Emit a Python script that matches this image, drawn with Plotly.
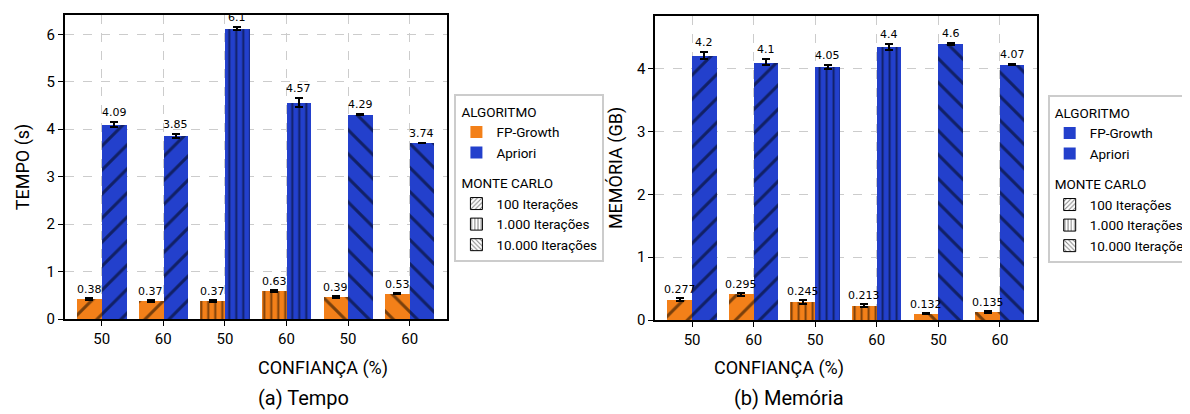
import plotly.graph_objects as go

confianca = ["50", "60", "50", "60", "50", "60"]
hatches = ["/", "/", "|", "|", "\\", "\\"]

tempo_fp = [0.42, 0.38, 0.38, 0.60, 0.46, 0.54]
tempo_fp_err = [0.02, 0.02, 0.02, 0.02, 0.02, 0.02]
tempo_fp_lbl = ["0.38", "0.37", "0.37", "0.63", "0.39", "0.53"]
tempo_ap = [4.10, 3.86, 6.12, 4.56, 4.31, 3.71]
tempo_ap_err = [0.05, 0.05, 0.03, 0.09, 0.01, 0.01]
tempo_ap_lbl = ["4.09", "3.85", "6.1", "4.57", "4.29", "3.74"]

mem_fp = [0.33, 0.41, 0.29, 0.23, 0.10, 0.13]
mem_fp_err = [0.02, 0.02, 0.03, 0.03, 0.01, 0.01]
mem_fp_lbl = ["0.277", "0.295", "0.245", "0.213", "0.132", "0.135"]
mem_ap = [4.21, 4.10, 4.03, 4.34, 4.39, 4.06]
mem_ap_err = [0.05, 0.05, 0.03, 0.05, 0.01, 0.01]
mem_ap_lbl = ["4.2", "4.1", "4.05", "4.4", "4.6", "4.07"]

ORANGE = "#F38019"
BLUE = "#2340CC"
FONT = "Roboto"
W, H = 1190, 414

fig = go.Figure()
xs = list(range(len(confianca)))


def pat(shapes):
    sizes = [7 if s == "|" else 17 for s in shapes]
    sol = [0.28 if s == "|" else 0.18 for s in shapes]
    return dict(shape=shapes, fgcolor="black", size=sizes, solidity=sol, fillmode="overlay")


def add_panel(fp, fp_err, fp_lbl, ap, ap_err, ap_lbl, xa, ya):
    fig.add_trace(go.Bar(
        x=xs, y=fp, width=0.4, offset=-0.4, xaxis=xa, yaxis=ya,
        marker=dict(color=ORANGE, line=dict(width=0), pattern=pat(hatches)),
        error_y=dict(type="data", array=fp_err, color="black", thickness=2, width=4),
        showlegend=False))
    fig.add_trace(go.Bar(
        x=xs, y=ap, width=0.4, offset=0.0, xaxis=xa, yaxis=ya,
        marker=dict(color=BLUE, line=dict(width=0), pattern=pat(hatches)),
        error_y=dict(type="data", array=ap_err, color="black", thickness=2, width=4),
        showlegend=False))
    for i in xs:
        fig.add_annotation(x=i - 0.2, y=fp[i] + fp_err[i], xref=xa, yref=ya,
                           text=fp_lbl[i], showarrow=False, yanchor="bottom", yshift=0,
                           font=dict(family="DejaVu Sans", size=11, color="black"))
        fig.add_annotation(x=i + 0.2, y=ap[i] + ap_err[i], xref=xa, yref=ya,
                           text=ap_lbl[i], showarrow=False, yanchor="bottom", yshift=1,
                           font=dict(family="DejaVu Sans", size=11, color="black"))


add_panel(tempo_fp, tempo_fp_err, tempo_fp_lbl, tempo_ap, tempo_ap_err, tempo_ap_lbl, "x", "y")
add_panel(mem_fp, mem_fp_err, mem_fp_lbl, mem_ap, mem_ap_err, mem_ap_lbl, "x2", "y2")


def legend_entries(legend, fp_color):
    fig.add_trace(go.Bar(x=[None], y=[None], name="FP-Growth", legend=legend,
                         legendgroup=legend + "alg", legendgrouptitle_text="ALGORITMO",
                         marker=dict(color=fp_color, line=dict(width=0))))
    fig.add_trace(go.Bar(x=[None], y=[None], name="Apriori", legend=legend,
                         legendgroup=legend + "alg",
                         marker=dict(color=BLUE, line=dict(width=0))))
    names = ["100 Iterações", "1.000 Iterações", "10.000 Iterações"]
    for n, s in zip(names, ["/", "|", "\\"]):
        fig.add_trace(go.Bar(x=[None], y=[None], name=n, legend=legend,
                             legendgroup=legend + "mc", legendgrouptitle_text="MONTE CARLO",
                             marker=dict(color="white", line=dict(width=1, color="black"),
                                         pattern=dict(shape=s, fgcolor="black", size=4, solidity=0.3))))


legend_entries("legend", ORANGE)
legend_entries("legend2", BLUE)

axis_common = dict(showline=True, linecolor="black", linewidth=1.5, mirror=True,
                   ticks="outside", ticklen=5, tickcolor="black",
                   showgrid=True, gridcolor="#cccccc", griddash="dash", gridwidth=1,
                   zeroline=False, tickfont=dict(family=FONT, size=15, color="black"))

xdom1 = [58 / W, 448 / W]
xdom2 = [661 / W, 1051 / W]
ydom1 = [1 - 318 / H, 1 - 7 / H]
ydom2 = [1 - 319 / H, 1 - 8 / H]

fig.update_layout(
    width=W, height=H, margin=dict(l=0, r=0, t=0, b=0),
    paper_bgcolor="white", plot_bgcolor="white",
    bargap=0, barmode="overlay",
    font=dict(family=FONT, size=13, color="black"),
    xaxis=dict(domain=xdom1, anchor="y", range=[-0.6, 5.6], tickvals=xs, ticktext=confianca, **axis_common),
    yaxis=dict(domain=ydom1, anchor="x", range=[0, 6.41], dtick=1,
               title=dict(text="TEMPO (s)", font=dict(family=FONT, size=18), standoff=12), **axis_common),
    xaxis2=dict(domain=xdom2, anchor="y2", range=[-0.6, 5.6], tickvals=xs, ticktext=confianca, **axis_common),
    yaxis2=dict(domain=ydom2, anchor="x2", range=[0, 4.84], dtick=1,
                title=dict(text="MEMÓRIA (GB)", font=dict(family=FONT, size=18), standoff=10), **axis_common),
    legend=dict(x=456 / W, y=1 - 88 / H, xanchor="left", yanchor="top",
                bordercolor="#cccccc", borderwidth=2, bgcolor="white",
                font=dict(family=FONT, size=13.5), tracegroupgap=10,
                grouptitlefont=dict(family=FONT, size=13.5)),
    legend2=dict(x=1062 / W, y=1 - 89 / H, xanchor="left", yanchor="top",
                 bordercolor="#cccccc", borderwidth=2, bgcolor="white",
                 font=dict(family=FONT, size=13.5), tracegroupgap=10,
                 grouptitlefont=dict(family=FONT, size=13.5)),
)

for xc, txt in [((xdom1[0] + xdom1[1]) / 2, "(a) Tempo"), ((xdom2[0] + xdom2[1]) / 2, "(b) Memória")]:
    fig.add_annotation(x=xc, y=1 - 368 / H, xref="paper", yref="paper", text="CONFIANÇA (%)",
                       showarrow=False, yanchor="middle", font=dict(family=FONT, size=18, color="black"))
    fig.add_annotation(x=xc, y=1 - 399 / H, xref="paper", yref="paper", text=txt,
                       showarrow=False, yanchor="middle", font=dict(family=FONT, size=20, color="black"))

fig.write_html("out.html")
